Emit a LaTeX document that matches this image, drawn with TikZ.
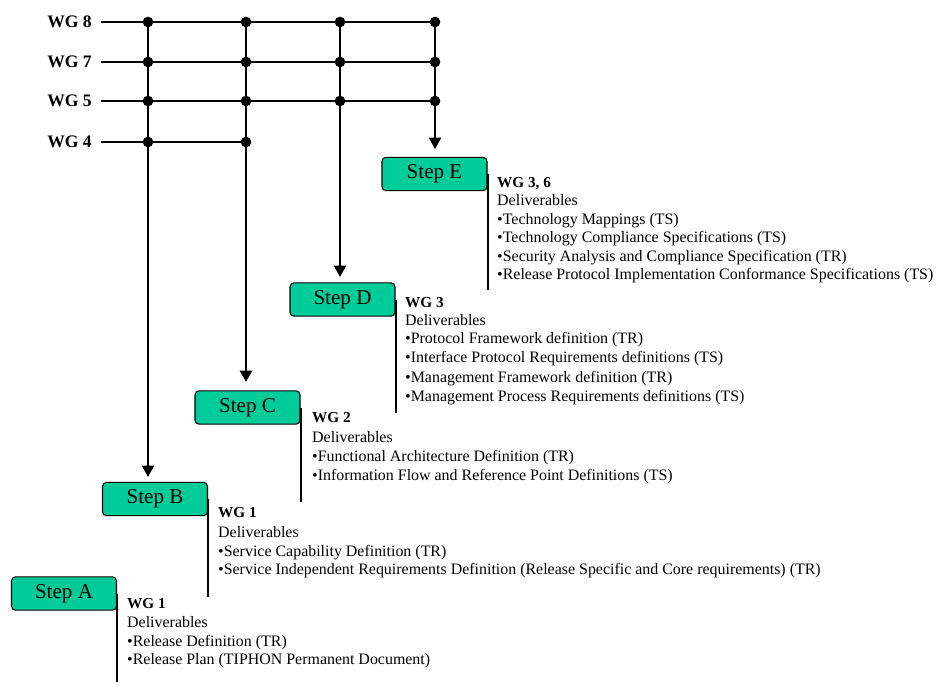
\documentclass[tikz,border=0pt]{standalone}
\usepackage{fontspec}
\setmainfont{Liberation Serif}
\usetikzlibrary{arrows.meta}
\definecolor{stepgreen}{HTML}{00CC99}
\begin{document}
\begin{tikzpicture}[x=0.03cm,y=-0.03cm,
  wire/.style={line width=1.7pt},
  heavywire/.style={line width=2.4pt},
  feed/.style={line width=1.7pt,-{Triangle[length=0.34cm,width=0.36cm]}},
  heavyfeed/.style={feed,line width=2.2pt},
  dot/.style={circle,fill=black,inner sep=0pt,minimum size=0.32cm},
  wglabel/.style={anchor=east,inner sep=0pt,font=\fontsize{15}{18}\selectfont\bfseries},
  stepbox/.style={draw=black,line width=0.9pt,fill=stepgreen,rounded corners=0.12cm,
    minimum width=3.15cm,minimum height=1.0cm,inner sep=0pt,font=\fontsize{18}{20}\selectfont},
  wghead/.style={anchor=base west,inner sep=0pt,font=\fontsize{13}{15}\selectfont\bfseries},
  deliv/.style={anchor=base west,inner sep=0pt,font=\fontsize{13.6}{16}\selectfont},
  stem/.style={line width=1.7pt}
]
\useasboundingbox (0,0) rectangle (937,682);

% working group rows
\node[wglabel] (wg8) at (92,22) {WG 8};
\node[wglabel] (wg7) at (92,62) {WG 7};
\node[wglabel] (wg5) at (92,101) {WG 5};
\node[wglabel] (wg4) at (92,142) {WG 4};
\coordinate (w8) at (101,22);
\coordinate (w7) at (101,62);
\coordinate (w5) at (101,101);
\coordinate (w4) at (101,142);

% junctions: columns a..d, rows 8,7,5,4
\foreach \c/\x in {a/148,b/246,c/340,d/435}
  \foreach \r/\y in {8/22,7/62,5/101,4/142}
    \coordinate (j\c\r) at (\x,\y);

% arrow tips above each step
\coordinate (tipB) at (148,477);
\coordinate (tipC) at (246,382);
\coordinate (tipD) at (340,277);
\coordinate (tipE) at (435,149);

% horizontal buses
\draw[wire] (w8) -- (jd8);
\draw[wire] (w7) -- (jd7);
\draw[wire] (w5) -- (jd5);
\draw[heavywire] (w4) -- (jb4);

% vertical feeds
\draw[feed] (ja8) -- (tipB);
\draw[heavyfeed] (jb8) -- (tipC);
\draw[feed] (jc8) -- (tipD);
\draw[feed] (jd8) -- (tipE);

% junction dots
\foreach \j in {a8,a7,a5,a4,b8,b7,b5,b4,c8,c7,c5,d8,d7,d5}
  \node[dot] (dot\j) at (j\j) {};

% stems below each step
\coordinate (endE) at (487,290);
\coordinate (endD) at (395,413);
\coordinate (endC) at (301,502);
\coordinate (endB) at (208,597);
\coordinate (endA) at (117,682);

\node[stepbox] (sE) at (434.5,174) {Step E};
\node[stepbox] (sD) at (342.5,299.5) {Step D};
\node[stepbox] (sC) at (247.5,407.5) {Step C};
\node[stepbox] (sB) at (155,499) {Step B};
\node[stepbox] (sA) at (64,593.5) {Step A};

\draw[stem] (sE.east) -- (sE.east |- endE);
\draw[stem] (sD.east) -- (sD.east |- endD);
\draw[stem] (sC.east) -- (sC.east |- endC);
\draw[stem] (sB.east) -- (sB.east |- endB);
\draw[stem] (sA.east) -- (sA.east |- endA);

% Step E deliverables
\node[wghead] (hE) at (497,188) {WG 3, 6};
\foreach [count=\i] \yy/\tx in {
  206/Deliverables,
  225/•Technology Mappings (TS),
  243/•Technology Compliance Specifications (TS),
  261/•Security Analysis and Compliance Specification (TR),
  279/•Release Protocol Implementation Conformance Specifications (TS)}
  \node[deliv] (tE\i) at (497,\yy) {\tx};

% Step D deliverables
\node[wghead] (hD) at (405,307) {WG 3};
\foreach [count=\i] \yy/\tx in {
  325/Deliverables,
  343/•Protocol Framework definition (TR),
  362/•Interface Protocol Requirements definitions (TS),
  382/•Management Framework definition (TR),
  401/•Management Process Requirements definitions (TS)}
  \node[deliv] (tD\i) at (405,\yy) {\tx};

% Step C deliverables
\node[wghead] (hC) at (312,422) {WG 2};
\foreach [count=\i] \yy/\tx in {
  442/Deliverables,
  461/•Functional Architecture Definition (TR),
  480/•Information Flow and Reference Point Definitions (TS)}
  \node[deliv] (tC\i) at (312,\yy) {\tx};

% Step B deliverables
\node[wghead] (hB) at (218,517) {WG 1};
\foreach [count=\i] \yy/\tx in {
  537/Deliverables,
  556/•Service Capability Definition (TR),
  574/•Service Independent Requirements Definition (Release Specific and Core requirements) (TR)}
  \node[deliv] (tB\i) at (218,\yy) {\tx};

% Step A deliverables
\node[wghead] (hA) at (127,608) {WG 1};
\foreach [count=\i] \yy/\tx in {
  627/Deliverables,
  646/•Release Definition (TR),
  664/•Release Plan (TIPHON Permanent Document)}
  \node[deliv] (tA\i) at (127,\yy) {\tx};

\end{tikzpicture}
\end{document}
